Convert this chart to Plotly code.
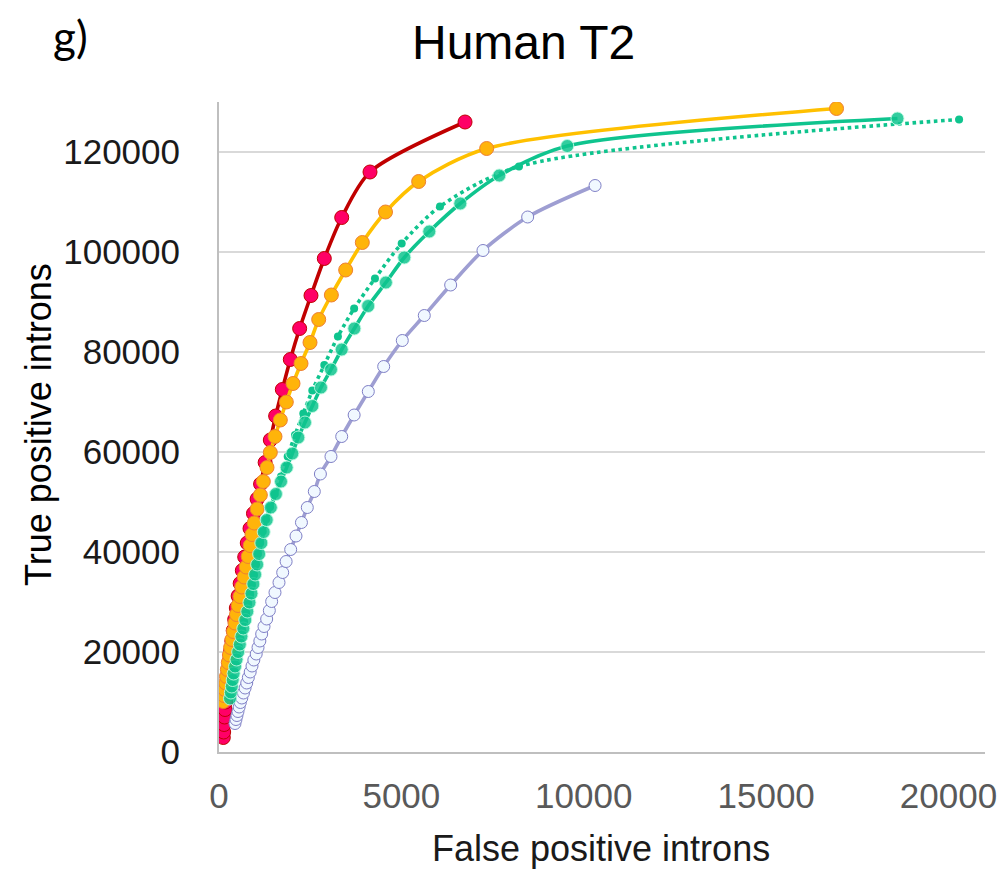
import plotly.graph_objects as go

# ---- data ----
red_x = [118, 128, 140, 152, 166, 180, 196, 214, 236, 260, 288, 318, 352, 390, 430, 475, 525, 580,
         640, 705, 775, 850, 945, 1045, 1140, 1265, 1407, 1553, 1736, 1955, 2211, 2522, 2887, 3364,
         4140, 6745]
red_y = [2900, 4000, 5500, 7000, 8500, 10000, 11500, 13000, 14700, 16500, 18300, 20200, 22200, 24300,
         26500, 28800, 31200, 33700, 36300, 39000, 41800, 44700, 47700, 50600, 53600, 57900, 62400,
         67200, 72500, 78500, 84700, 91300, 98700, 106900, 116000, 126000]

yellow_x = [118, 140, 162, 185, 205, 230, 255, 285, 318, 355, 395, 438, 480, 525, 575, 625, 690, 745,
            800, 855, 905, 965, 1045, 1133, 1215, 1316, 1407, 1535, 1681, 1845, 2029, 2248, 2495,
            2733, 3080, 3473, 3929, 4565, 5474, 7338, 16930]
yellow_y = [10100, 11300, 12500, 13800, 15100, 16500, 17900, 19400, 20900, 22500, 24100, 25800, 27500,
            29300, 31100, 33000, 35000, 37000, 39100, 41300, 43500, 45800, 48600, 51400, 54100, 56900,
            59900, 63100, 66400, 70000, 73700, 77700, 81900, 86500, 91400, 96400, 101900, 108000,
            114100, 120700, 128700]

green_x = [301, 325, 350, 375, 400, 440, 480, 525, 570, 615, 665, 720, 775, 835, 890, 940, 990, 1045,
           1100, 1160, 1225, 1307, 1420, 1560, 1700, 1855, 2010, 2174, 2357, 2558, 2796, 3070, 3364,
           3710, 4090, 4575, 5080, 5765, 6615, 7684, 9548, 18600]
green_y = [10700, 11900, 13100, 14400, 15700, 17100, 18500, 20000, 21500, 23100, 24700, 26400, 28100,
           29900, 31700, 33600, 35500, 37500, 39600, 41800, 44000, 46400, 48900, 51600, 54100, 56900,
           59700, 62900, 65900, 69200, 72900, 76500, 80500, 84700, 89200, 93900, 98900, 104100,
           109700, 115300, 121200, 126700]

dotted_x = [290, 320, 350, 385, 420, 460, 500, 545, 590, 640, 690, 745, 800, 855, 905, 960, 1015,
            1070, 1130, 1200, 1290, 1400, 1530, 1700, 1883, 2083, 2311, 2558, 2887, 3260, 3705, 4276,
            5008, 6058, 8224, 20290]
dotted_y = [11000, 12300, 13600, 15000, 16400, 17900, 19400, 21000, 22600, 24300, 26000, 27800, 29600,
            31500, 33400, 35400, 37500, 39600, 41800, 44100, 46500, 49000, 51600, 55100, 59100, 63400,
            67700, 72300, 77400, 83100, 88700, 94700, 101700, 109100, 117100, 126500]

lav_x = [438, 465, 492, 520, 552, 585, 625, 670, 715, 760, 805, 855, 905, 955, 1020, 1070, 1120, 1170,
         1234, 1307, 1380, 1444, 1535, 1645, 1746, 1840, 1965, 2111, 2260, 2421, 2613, 2780, 3070,
         3364, 3705, 4093, 4515, 5025, 5628, 6351, 7237, 8462, 10310]
lav_y = [5700, 6500, 7300, 8100, 9000, 9900, 10800, 11800, 12800, 13800, 14900, 16000, 17200, 18400,
         19600, 20900, 22200, 23600, 25100, 26600, 28300, 30100, 31900, 33900, 35900, 38100, 40500,
         43200, 45900, 48900, 52100, 55600, 59100, 63100, 67400, 72100, 77100, 82300, 87300, 93400,
         100300, 107000, 113300]

x_ticks = [0, 5000, 10000, 15000, 20000]
y_ticks = [0, 20000, 40000, 60000, 80000, 100000, 120000]

GREEN = "#0FC48E"
LW = 3.6

fig = go.Figure()

fig.add_trace(go.Scatter(
    x=red_x, y=red_y, mode="lines+markers",
    line=dict(color="#C00000", width=LW, shape="spline", smoothing=0.8),
    marker=dict(size=14, color="#FF0066", line=dict(color="#C00000", width=1)),
))
fig.add_trace(go.Scatter(
    x=yellow_x, y=yellow_y, mode="lines+markers",
    line=dict(color="#FFC000", width=LW, shape="spline", smoothing=0.8),
    marker=dict(size=14, color="#FFB40A", line=dict(color="#EE8033", width=1)),
))
fig.add_trace(go.Scatter(
    x=lav_x, y=lav_y, mode="lines+markers",
    line=dict(color="#9E9ED2", width=LW, shape="spline", smoothing=0.8),
    marker=dict(size=12, color="#F0F8FF", line=dict(color="#7F7FC6", width=1)),
))
fig.add_trace(go.Scatter(
    x=dotted_x, y=dotted_y, mode="lines+markers",
    line=dict(color=GREEN, width=LW, dash="dot", shape="spline", smoothing=0.8),
    marker=dict(size=8, color=GREEN),
))
fig.add_trace(go.Scatter(
    x=green_x, y=green_y, mode="lines+markers",
    line=dict(color=GREEN, width=LW, shape="spline", smoothing=0.8),
    marker=dict(size=13, color="rgba(15,196,142,0.85)", line=dict(color="rgba(190,250,225,0.9)", width=1)),
))

L, R, T, B = 219, 23, 102, 119
W, H = 1008, 871
pw, ph = W - L - R, H - T - B


def px(xp):
    return (xp - L) / pw


def py(yp):
    return (H - B - yp) / ph


fig.update_layout(
    width=W, height=H,
    margin=dict(l=L, r=R, t=T, b=B, pad=0),
    paper_bgcolor="white", plot_bgcolor="white",
    showlegend=False,
    font=dict(family="Liberation Sans, Arial, sans-serif"),
    xaxis=dict(
        range=[0, 21000], tickvals=x_ticks, tickformat="d",
        showgrid=False, zeroline=False,
        showline=True, linecolor="#BFBFBF", linewidth=2,
        ticks="", ticklabelstandoff=12,
        tickfont=dict(size=35, color="#595959"),
    ),
    yaxis=dict(
        range=[0, 130000], tickvals=y_ticks, tickformat="d",
        showgrid=True, gridcolor="#D9D9D9", gridwidth=1.5, zeroline=False,
        showline=True, linecolor="#BFBFBF", linewidth=2,
        ticks="", ticklabelstandoff=30,
        tickfont=dict(size=35, color="#1A1A1A"),
    ),
    annotations=[
        dict(text="Human T2", x=px(523), y=py(42), xref="paper", yref="paper",
             showarrow=False, xanchor="center", yanchor="middle",
             font=dict(size=48, color="#000000")),
        dict(text="g)", x=px(70), y=py(36), xref="paper", yref="paper",
             showarrow=False, xanchor="center", yanchor="middle",
             font=dict(size=44, color="#000000", family="Lato, Noto Sans, sans-serif")),
        dict(text="True positive introns", x=px(38), y=py(425), xref="paper", yref="paper",
             showarrow=False, xanchor="center", yanchor="middle", textangle=-90,
             font=dict(size=36, color="#000000")),
        dict(text="False positive introns", x=px(601), y=py(848), xref="paper", yref="paper",
             showarrow=False, xanchor="center", yanchor="middle",
             font=dict(size=36, color="#1A1A1A")),
    ],
)

fig.write_html("out.html")
